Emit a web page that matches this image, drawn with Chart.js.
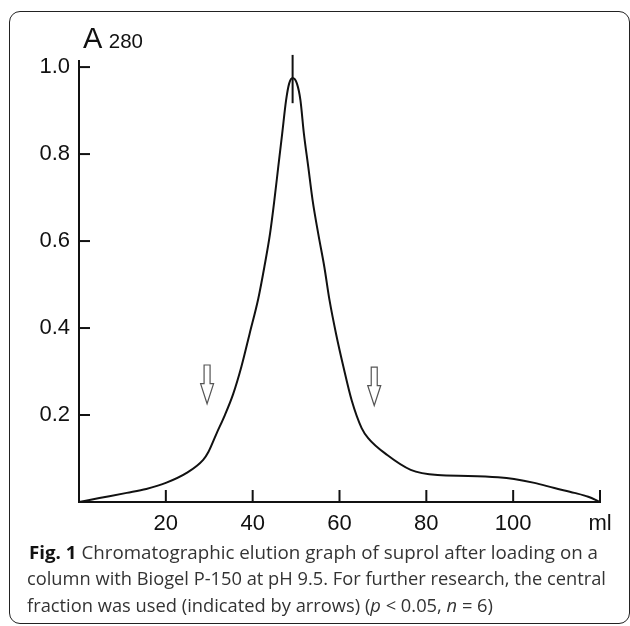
<!DOCTYPE html>
<html><head><meta charset="utf-8">
<script src="https://cdn.jsdelivr.net/npm/chart.js@4.4.1/dist/chart.umd.min.js"></script>
<style>
html,body{margin:0;padding:0;background:#fff;width:630px;height:626px;overflow:hidden;}
#wrap{position:relative;width:630px;height:626px;}
#card{position:absolute;left:9px;top:11px;width:621px;height:613px;border:1.8px solid #222;border-radius:11px;box-sizing:border-box;}
#c{position:absolute;left:0;top:0;}
#ylab{position:absolute;left:83px;top:23.5px;font-family:"Liberation Sans",Arial,sans-serif;font-size:29px;line-height:29px;color:#111;white-space:nowrap;}
#ylab span{font-size:20.5px;}
.cap{position:absolute;font-family:"Open Sans",sans-serif;font-size:18.5px;line-height:18.5px;color:#333;white-space:nowrap;transform-origin:0 0;}
.cap b{color:#111;}
</style></head>
<body><div id="wrap">
<div id="card"></div>
<canvas id="c" width="630" height="626"></canvas>
<div id="ylab">A <span>280</span></div>
<div class="cap" id="cap1" style="left:29px;top:543px;"><b>Fig. 1</b> Chromatographic elution graph of suprol after loading on a</div>
<div class="cap" id="cap2" style="left:27px;top:569px;">column with Biogel P-150 at pH 9.5. For further research, the central</div>
<div class="cap" id="cap3" style="left:27px;top:595.5px;">fraction was used (indicated by arrows) (<i>p</i> &lt; 0.05, <i>n</i> = 6)</div>
</div>
<script>
// elution volume (ml) and absorbance A280
const volume = [0, 4.7, 11, 15.5, 20, 24.8, 28.6, 29.8, 31.7, 33.6, 35.5, 37.4, 39.3, 41.3, 42.7, 44.0, 45.0, 45.9, 46.8, 47.7, 48.4, 49.2, 50.2, 51.0, 51.8, 52.8, 53.8, 55.1, 56.5, 57.7, 59.2, 60.9, 62.8, 65.1, 66.6, 71, 76.4, 82.6, 89.6, 96.5, 100.2, 104.9, 109.5, 114.1, 117.3, 120];
const absorbance = [0, 0.009, 0.021, 0.030, 0.044, 0.067, 0.097, 0.115, 0.158, 0.200, 0.248, 0.311, 0.387, 0.468, 0.541, 0.617, 0.694, 0.771, 0.847, 0.924, 0.962, 0.975, 0.962, 0.924, 0.847, 0.771, 0.694, 0.617, 0.541, 0.464, 0.387, 0.311, 0.234, 0.170, 0.147, 0.108, 0.074, 0.062, 0.060, 0.057, 0.053, 0.044, 0.032, 0.021, 0.012, 0];
// vertical peak marker
const peakMarkX = [49.2, 49.2];
const peakMarkY = [0.917, 1.028];
// hollow arrows marking the central fraction
const arrowX = [29.5, 68];
const arrowTopY = [0.315, 0.31];
const arrowTipY = [0.226, 0.222];
// axes
const xTicks = [20, 40, 60, 80, 100, 120];
const xTickLabels = ['20', '40', '60', '80', '100', 'ml'];
const yTicks = [0.2, 0.4, 0.6, 0.8, 1.0];
const yTickLabels = ['0.2', '0.4', '0.6', '0.8', '1.0'];

// fit caption lines to the reference widths
const capWidths = {cap1: 569, cap2: 579, cap3: 466};
for (const id in capWidths) {
  const el = document.getElementById(id);
  const w = el.getBoundingClientRect().width;
  el.style.transform = 'scaleX(' + (capWidths[id] / w) + ')';
}

const tickFont = {family: '"Liberation Sans", Arial, sans-serif', size: 22};
const ink = '#111';

const innerTicks = {
  id: 'innerTicks',
  afterDraw(chart) {
    const {ctx, scales: {x, y}, chartArea} = chart;
    ctx.save();
    ctx.strokeStyle = ink; ctx.lineWidth = 2;
    xTicks.forEach(v => {
      const px = x.getPixelForValue(v);
      ctx.beginPath(); ctx.moveTo(px, chartArea.bottom); ctx.lineTo(px, chartArea.bottom - 12); ctx.stroke();
    });
    yTicks.forEach(v => {
      const py = y.getPixelForValue(v);
      ctx.beginPath(); ctx.moveTo(chartArea.left, py); ctx.lineTo(chartArea.left + 11, py); ctx.stroke();
    });
    ctx.restore();
  }
};

const arrows = {
  id: 'arrows',
  afterDatasetsDraw(chart) {
    const {ctx, scales: {x, y}} = chart;
    ctx.save();
    arrowX.forEach((v, i) => {
      const cx = x.getPixelForValue(v);
      const top = y.getPixelForValue(arrowTopY[i]);
      const tip = y.getPixelForValue(arrowTipY[i]);
      const headLen = (tip - top) * 0.52;
      const sw = 3, hw = 6.5;
      ctx.beginPath();
      ctx.moveTo(cx - sw, top); ctx.lineTo(cx + sw, top);
      ctx.lineTo(cx + sw, tip - headLen); ctx.lineTo(cx + hw, tip - headLen);
      ctx.lineTo(cx, tip); ctx.lineTo(cx - hw, tip - headLen);
      ctx.lineTo(cx - sw, tip - headLen); ctx.closePath();
      ctx.fillStyle = '#fff'; ctx.fill();
      ctx.strokeStyle = '#555'; ctx.lineWidth = 1.2; ctx.stroke();
    });
    ctx.restore();
  }
};

new Chart(document.getElementById('c'), {
  type: 'line',
  data: {
    datasets: [
      {data: volume.map((v, i) => ({x: v, y: absorbance[i]})), borderColor: ink, borderWidth: 2, pointRadius: 0, cubicInterpolationMode: 'monotone', fill: false},
      {data: peakMarkX.map((v, i) => ({x: v, y: peakMarkY[i]})), borderColor: ink, borderWidth: 2, pointRadius: 0, clip: false, fill: false}
    ]
  },
  options: {
    responsive: false, animation: false, devicePixelRatio: 1,
    layout: {padding: {left: 0, top: 61, right: 30, bottom: 0}},
    plugins: {legend: {display: false}, tooltip: {enabled: false}},
    scales: {
      x: {
        type: 'linear', min: 0, max: 120,
        afterBuildTicks: s => { s.ticks = xTicks.map(v => ({value: v})); },
        ticks: {callback: v => xTickLabels[xTicks.indexOf(v)], font: tickFont, color: ink, padding: 9, maxRotation: 0, autoSkip: false},
        grid: {display: false, drawTicks: false},
        border: {display: true, color: ink, width: 2},
        afterFit: s => { s.height = 124; }
      },
      y: {
        type: 'linear', min: 0, max: 1.014,
        afterBuildTicks: s => { s.ticks = yTicks.map(v => ({value: v})); },
        ticks: {callback: v => yTickLabels[yTicks.indexOf(v)], font: tickFont, color: ink, padding: 9, autoSkip: false},
        grid: {display: false, drawTicks: false},
        border: {display: true, color: ink, width: 2},
        afterFit: s => { s.width = 79; }
      }
    }
  },
  plugins: [innerTicks, arrows]
});
</script>
</body></html>
